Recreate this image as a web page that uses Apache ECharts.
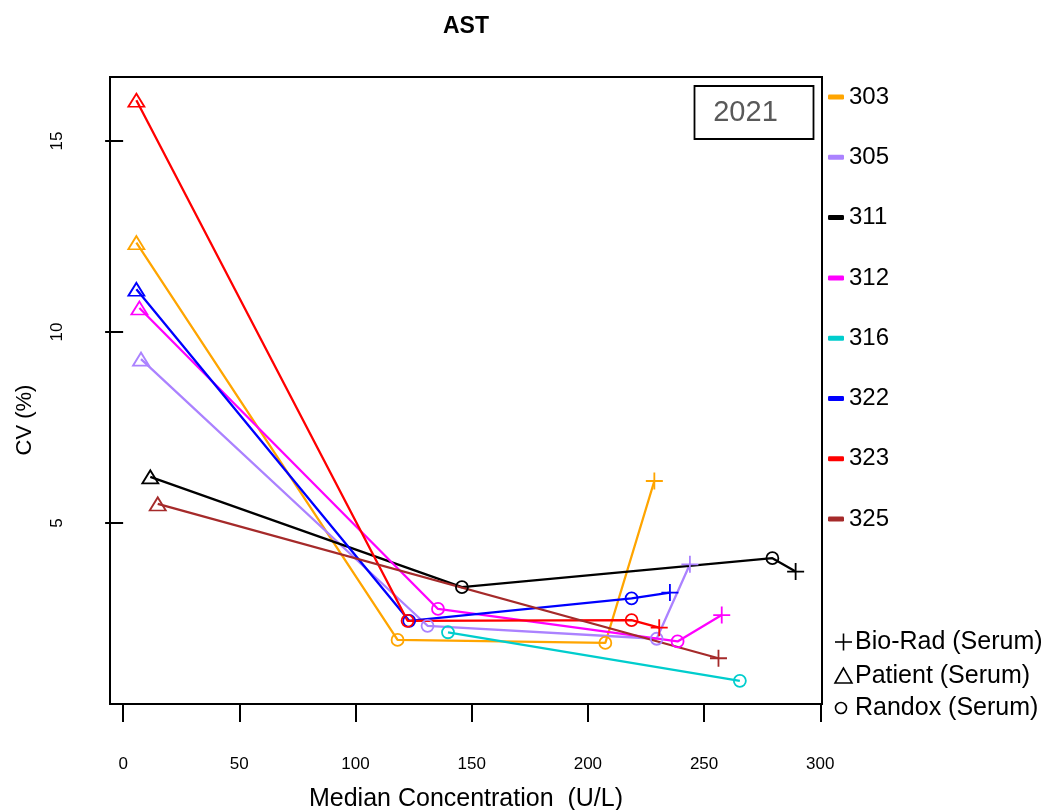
<!DOCTYPE html>
<html>
<head>
<meta charset="utf-8">
<script src="https://cdn.jsdelivr.net/npm/echarts@6/dist/echarts.min.js"></script>
<style>
  html, body { margin: 0; padding: 0; background: #fff; }
  #chart { width: 1047px; height: 810px; }
</style>
</head>
<body>
<div id="chart"></div>
<script>
// Laboratories and their line colours
const labs = ['303', '305', '311', '312', '316', '322', '323', '325'];
const labColors = ['#FFA500', '#AB82FF', '#000000', '#FF00FF', '#00CDCD', '#0000FF', '#FF0000', '#A52A2A'];

// Median concentration (U/L), CV (%) and control material for each lab
const conc303 = [5.7, 118.1, 207.5, 228.6];
const cv303   = [12.34, 1.94, 1.86, 6.10];
const mat303  = ['Patient', 'Randox', 'Randox', 'Bio-Rad'];

const conc305 = [7.7, 131.0, 229.6, 243.9];
const cv305   = [9.29, 2.31, 1.97, 3.92];
const mat305  = ['Patient', 'Randox', 'Randox', 'Bio-Rad'];

const conc311 = [11.7, 145.8, 279.4, 289.4];
const cv311   = [6.21, 3.32, 4.08, 3.73];
const mat311  = ['Patient', 'Randox', 'Randox', 'Bio-Rad'];

const conc312 = [7.0, 135.5, 238.6, 257.6];
const cv312   = [10.63, 2.75, 1.90, 2.59];
const mat312  = ['Patient', 'Randox', 'Randox', 'Bio-Rad'];

const conc316 = [139.8, 265.4];
const cv316   = [2.14, 0.87];
const mat316  = ['Randox', 'Randox'];

const conc322 = [5.7, 123.1, 218.8, 235.3];
const cv322   = [11.12, 2.44, 3.03, 3.18];
const mat322  = ['Patient', 'Randox', 'Randox', 'Bio-Rad'];

const conc323 = [5.7, 122.4, 218.8, 230.7];
const cv323   = [16.07, 2.44, 2.46, 2.26];
const mat323  = ['Patient', 'Randox', 'Randox', 'Bio-Rad'];

const conc325 = [14.9, 256.2];
const cv325   = [5.50, 1.46];
const mat325  = ['Patient', 'Bio-Rad'];

// Axis ticks
const xTicks = [0, 50, 100, 150, 200, 250, 300];
const yTicks = [5, 10, 15];
const yearLabel = '2021';

// Material legend
const materials = ['Bio-Rad (Serum)', 'Patient (Serum)', 'Randox (Serum)'];

const PLUS = 'path://M0,5L10,5M5,0L5,10';
const symbolFor = { 'Bio-Rad': PLUS, 'Patient': 'triangle', 'Randox': 'circle' };
const sizeFor = { 'Bio-Rad': 17, 'Patient': [16, 13], 'Randox': 12 };

const labData = {
  '303': [conc303, cv303, mat303],
  '305': [conc305, cv305, mat305],
  '311': [conc311, cv311, mat311],
  '312': [conc312, cv312, mat312],
  '316': [conc316, cv316, mat316],
  '322': [conc322, cv322, mat322],
  '323': [conc323, cv323, mat323],
  '325': [conc325, cv325, mat325]
};

// R-style axis padding: 4% beyond the data range
const allX = [].concat(...labs.map(l => labData[l][0]));
const allY = [].concat(...labs.map(l => labData[l][1]));
const xMinD = Math.min(...allX), xMaxD = Math.max(...allX);
const yMinD = Math.min(...allY), yMaxD = Math.max(...allY);
const xPad = 0.04 * (xMaxD - xMinD), yPad = 0.04 * (yMaxD - yMinD);

const series = labs.map((lab, i) => {
  const [xs, ys, ms] = labData[lab];
  const c = labColors[i];
  return {
    name: lab,
    type: 'line',
    animation: false,
    color: c,
    lineStyle: { color: c, width: 2.3 },
    itemStyle: { color: c, borderColor: c },
    emphasis: { disabled: true },
    data: xs.map((x, k) => ({
      value: [x, ys[k]],
      symbol: symbolFor[ms[k]],
      symbolSize: sizeFor[ms[k]],
      itemStyle: { color: 'rgba(0,0,0,0)', borderColor: c, borderWidth: 1.8 }
    }))
  };
});

const GRID = { left: 110, top: 77, width: 712, height: 627 };
const FONT = 'Liberation Sans, Arial, sans-serif';

const chart = echarts.init(document.getElementById('chart'), null, { renderer: 'canvas' });

const graphics = [
  { type: 'text', x: 466, y: 27, style: { text: 'AST', font: 'bold 23px ' + FONT, fill: '#000', align: 'center', verticalAlign: 'middle' } },
  { type: 'text', x: 25, y: 420, rotation: Math.PI / 2, style: { text: 'CV (%)', font: '22px ' + FONT, fill: '#000', align: 'center', verticalAlign: 'middle' } },
  { type: 'rect', shape: { x: 694.5, y: 86, width: 119, height: 53 }, style: { fill: '#fff', stroke: '#000', lineWidth: 1.8 }, z: 10 },
  { type: 'text', x: 745.5, y: 113, style: { text: yearLabel, font: '29px ' + FONT, fill: '#595959', align: 'center', verticalAlign: 'middle' }, z: 11 }
];

// Material symbols beside the lab legend
const matY = [642, 676, 708];
graphics.push({ type: 'polyline', shape: { points: [[835, matY[0]], [852, matY[0]]] }, style: { stroke: '#000', lineWidth: 1.6 } });
graphics.push({ type: 'polyline', shape: { points: [[843.5, matY[0] - 8.5], [843.5, matY[0] + 8.5]] }, style: { stroke: '#000', lineWidth: 1.6 } });
graphics.push({ type: 'polygon', shape: { points: [[843.5, matY[1] - 8], [835, matY[1] + 7], [852, matY[1] + 7]] }, style: { fill: 'none', stroke: '#000', lineWidth: 1.6 } });
graphics.push({ type: 'circle', shape: { cx: 841, cy: matY[2], r: 5.5 }, style: { fill: 'none', stroke: '#000', lineWidth: 1.6 } });
materials.forEach((m, k) => {
  graphics.push({ type: 'text', x: 855, y: matY[k], style: { text: m, font: '25px ' + FONT, fill: '#000', align: 'left', verticalAlign: 'middle' } });
});

chart.setOption({
  animation: false,
  textStyle: { fontFamily: FONT },
  grid: Object.assign({ show: true, borderColor: '#000', borderWidth: 2, backgroundColor: 'transparent', outerBoundsMode: 'none', containLabel: false }, GRID),
  legend: {
    orient: 'vertical',
    left: 828,
    top: 85,
    padding: 0,
    itemGap: 36.3,
    itemWidth: 16,
    itemHeight: 5,
    icon: 'roundRect',
    selectedMode: false,
    textStyle: { fontSize: 24, color: '#000', fontFamily: FONT, lineHeight: 24 },
    data: labs.map((l, i) => ({ name: l, itemStyle: { color: labColors[i] } }))
  },
  xAxis: {
    type: 'value',
    min: xMinD - xPad,
    max: xMaxD + xPad,
    splitLine: { show: false },
    axisLine: { show: false },
    axisTick: { show: true, customValues: xTicks, length: 18, inside: false, lineStyle: { color: '#000', width: 2 } },
    axisLabel: { customValues: xTicks, margin: 52, fontSize: 17, color: '#000', fontFamily: FONT },
    name: 'Median Concentration  (U/L)',
    nameLocation: 'middle',
    nameGap: 83,
    nameTextStyle: { fontSize: 25, color: '#000', fontFamily: FONT }
  },
  yAxis: {
    type: 'value',
    min: yMinD - yPad,
    max: yMaxD + yPad,
    splitLine: { show: false },
    axisLine: { show: false },
    axisTick: { show: true, customValues: yTicks, length: 18, inside: false, lineStyle: { color: '#000', width: 2 } },
    axisLabel: { customValues: yTicks, margin: 44, fontSize: 17, color: '#000', rotate: 90, fontFamily: FONT }
  },
  graphic: graphics,
  series: series
});
</script>
</body>
</html>
